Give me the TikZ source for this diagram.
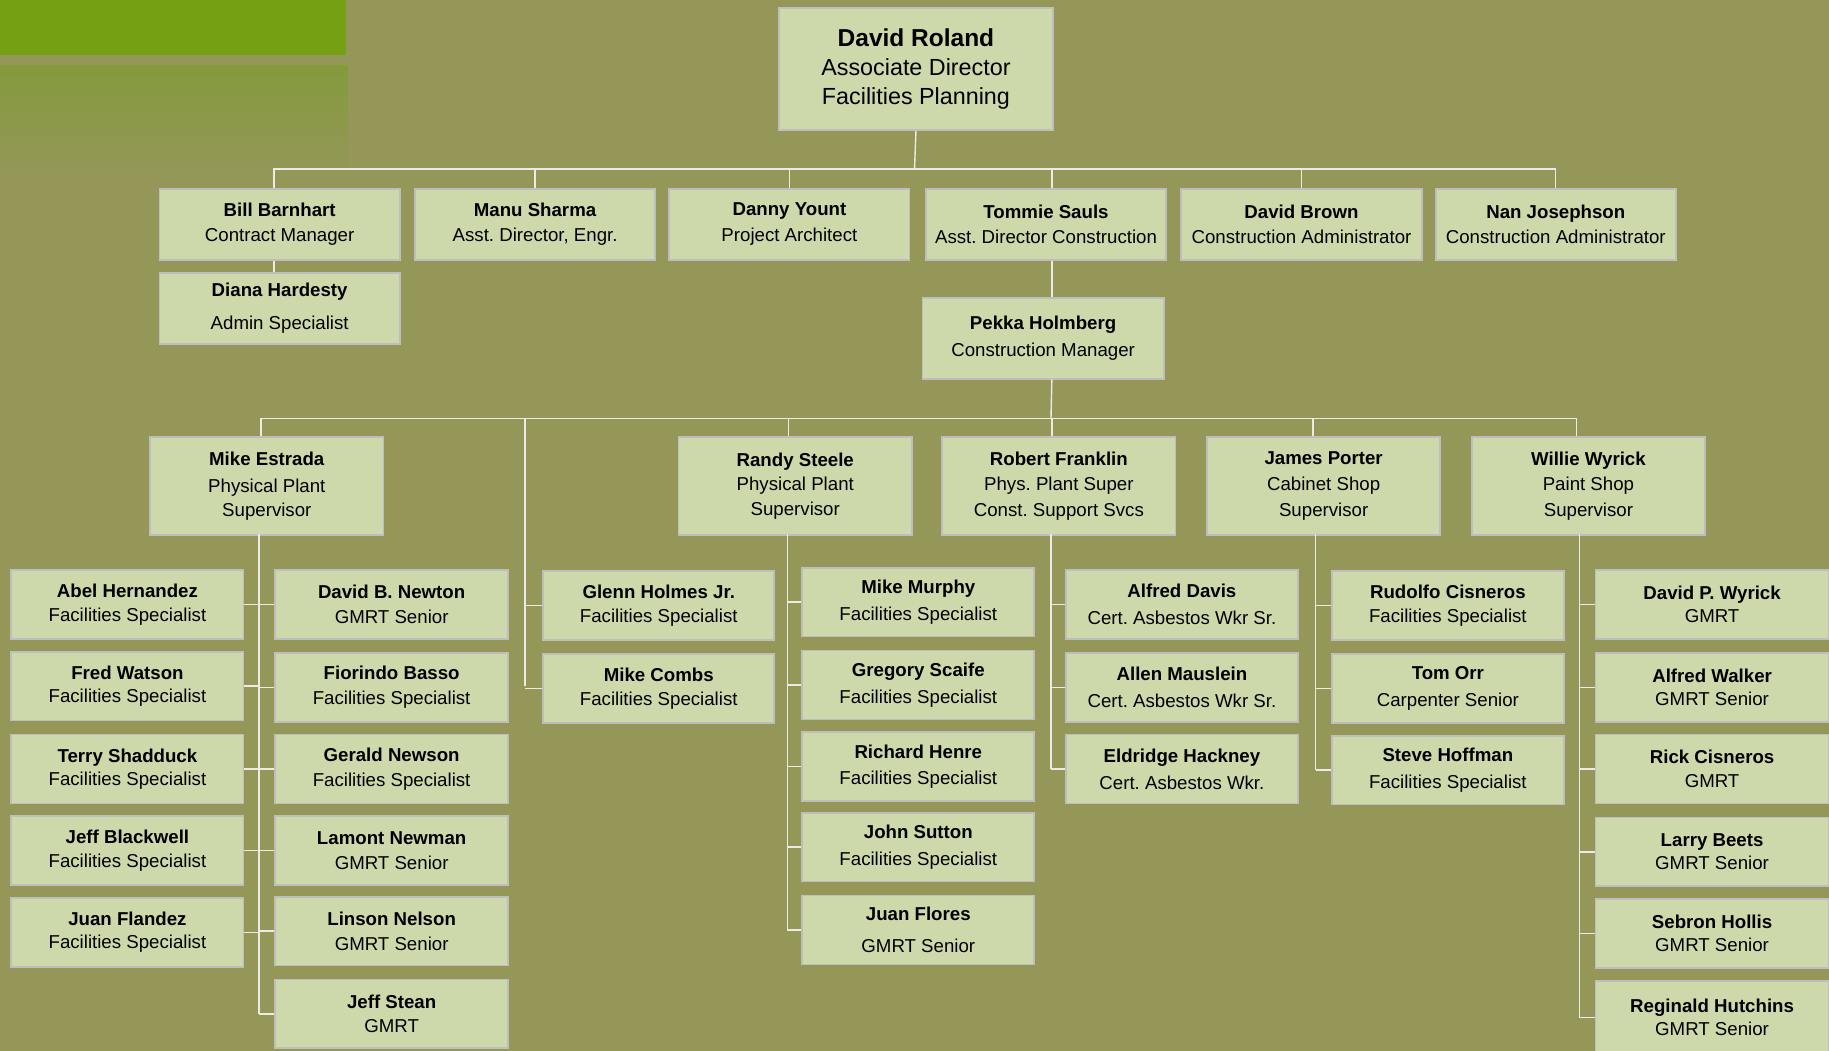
\documentclass[tikz,border=0pt]{standalone}
\usepackage{fontspec}
\setmainfont{Liberation Sans}
\frenchspacing
\definecolor{bg}{RGB}{148,151,88}
\definecolor{boxfill}{RGB}{205,217,171}
\definecolor{boxline}{RGB}{190,190,190}
\definecolor{conncol}{RGB}{236,236,230}
\definecolor{topgreen}{RGB}{118,160,19}
\definecolor{fadegreen}{RGB}{132,154,60}
\tikzset{
  box/.style={draw=boxline, fill=boxfill, line width=1.5pt, inner sep=0pt, anchor=north west,
    align=center, font=\fontsize{16}{22}\selectfont, text=black},
  conn/.style={draw=conncol, line width=1.2pt},
}
\newcommand\nm[1]{\textbf{#1}}
\begin{document}
\begin{tikzpicture}[x=1pt,y=-1pt]
\fill[bg] (0,0) rectangle (1568,901);
\useasboundingbox (0,0) rectangle (1568,901);
% decorations
\fill[topgreen] (0,0) rectangle (297,47);
\shade[top color=fadegreen, bottom color=bg] (0,56) rectangle (298,150);
% top
\node[box, minimum width=235pt, minimum height=105pt, font=\fontsize{20}{25}\selectfont] (roland) at (667,6)
  {{\fontsize{21}{25}\selectfont\bfseries David Roland}\\Associate Director\\Facilities Planning};
% level 1
\foreach \n/\x/\a/\b in {bill/136/Bill Barnhart/Contract Manager,
  manu/355/Manu Sharma/{Asst. Director, Engr.},
  danny/573/Danny Yount/Project Architect,
  tommie/793/Tommie Sauls/Asst. Director Construction,
  dbrown/1012/David Brown/Construction Administrator,
  nan/1230/Nan Josephson/Construction Administrator}
  \node[box, minimum width=206pt, minimum height=61pt] (\n) at (\x,161) {\nm{\a}\\\b};
\node[box, minimum width=206pt, minimum height=61pt] (diana) at (136,233) {\nm{Diana Hardesty}\\[6pt]Admin Specialist};
\node[box, minimum width=207pt, minimum height=69pt] (pekka) at (790,255) {\nm{Pekka Holmberg}\\[1pt]Construction Manager};
% level 2
\node[box, minimum width=200pt, minimum height=84pt, font=\fontsize{16}{21}\selectfont] (estrada) at (128,374) {\nm{Mike Estrada}\\[2pt]Physical Plant\\Supervisor};
\node[box, minimum width=200pt, minimum height=84pt, font=\fontsize{16}{21}\selectfont] (steele) at (581,374) {\nm{Randy Steele}\\Physical Plant\\Supervisor};
\node[box, minimum width=200pt, minimum height=84pt, font=\fontsize{16}{22}\selectfont] (franklin) at (807,374) {\nm{Robert Franklin}\\Phys. Plant Super\\Const. Support Svcs};
\node[box, minimum width=200pt, minimum height=84pt, font=\fontsize{16}{22}\selectfont] (porter) at (1034,374) {\nm{James Porter}\\Cabinet Shop\\Supervisor};
\node[box, minimum width=200pt, minimum height=84pt, font=\fontsize{16}{22}\selectfont] (wyrick) at (1261,374) {\nm{Willie Wyrick}\\Paint Shop\\Supervisor};
% Estrada left column
\foreach \n/\y/\a/\b in {abel/488/Abel Hernandez/Facilities Specialist,
  fred/558/Fred Watson/Facilities Specialist,
  terry/629/Terry Shadduck/Facilities Specialist,
  jeffb/699/Jeff Blackwell/Facilities Specialist,
  juanf/769/Juan Flandez/Facilities Specialist}
  \node[box, minimum width=199pt, minimum height=59pt, font=\fontsize{16}{20}\selectfont] (\n) at (9,\y) {\nm{\a}\\\b};
% Estrada right column
\foreach \n/\y/\a/\b in {newton/488/David B. Newton/GMRT Senior,
  basso/559/Fiorindo Basso/Facilities Specialist,
  newson/629/Gerald Newson/Facilities Specialist,
  newman/699/Lamont Newman/GMRT Senior,
  nelson/768/Linson Nelson/GMRT Senior,
  stean/839/Jeff Stean/GMRT}
  \node[box, minimum width=200pt, minimum height=59pt, font=\fontsize{16}{21}\selectfont] (\n) at (235,\y) {\nm{\a}\\\b};
% middle pair
\node[box, minimum width=198pt, minimum height=59pt, font=\fontsize{16}{20}\selectfont] (glenn) at (465,489) {\nm{Glenn Holmes Jr.}\\Facilities Specialist};
\node[box, minimum width=198pt, minimum height=59pt, font=\fontsize{16}{21}\selectfont] (combs) at (465,560) {\nm{Mike Combs}\\Facilities Specialist};
% Steele column
\foreach \n/\y/\a/\b in {murphy/486/Mike Murphy/Facilities Specialist,
  scaife/557/Gregory Scaife/Facilities Specialist,
  henre/627/Richard Henre/Facilities Specialist,
  sutton/696/John Sutton/Facilities Specialist}
  \node[box, minimum width=199pt, minimum height=59pt, font=\fontsize{16}{23}\selectfont] (\n) at (687,\y) {\nm{\a}\\\b};
\node[box, minimum width=199pt, minimum height=59pt, font=\fontsize{16}{22}\selectfont] (flores) at (687,767) {\nm{Juan Flores}\\[5pt]GMRT Senior};
% Franklin column
\foreach \n/\y/\a/\b in {adavis/488/Alfred Davis/Cert. Asbestos Wkr Sr.,
  mauslein/559/Allen Mauslein/Cert. Asbestos Wkr Sr.,
  hackney/629/Eldridge Hackney/Cert. Asbestos Wkr.}
  \node[box, minimum width=199pt, minimum height=59pt, font=\fontsize{16}{23}\selectfont] (\n) at (913,\y) {\nm{\a}\\\b};
% Porter column
\node[box, minimum width=199pt, minimum height=59pt, font=\fontsize{16}{20}\selectfont] (rudolfo) at (1141,489) {\nm{Rudolfo Cisneros}\\Facilities Specialist};
\node[box, minimum width=199pt, minimum height=59pt, font=\fontsize{16}{23}\selectfont] (orr) at (1141,560) {\nm{Tom Orr}\\Carpenter Senior};
\node[box, minimum width=199pt, minimum height=59pt, font=\fontsize{16}{23}\selectfont] (hoffman) at (1141,630) {\nm{Steve Hoffman}\\Facilities Specialist};
% Wyrick column
\foreach \n/\y/\a/\b in {dpw/488/David P. Wyrick/GMRT,
  walker/559/Alfred Walker/GMRT Senior,
  rick/629/Rick Cisneros/GMRT,
  beets/700/Larry Beets/GMRT Senior,
  hollis/770/Sebron Hollis/GMRT Senior}
  \node[box, minimum width=200pt, minimum height=59pt, font=\fontsize{16}{20}\selectfont] (\n) at (1367,\y) {\nm{\a}\\\b};
\node[box, minimum width=200pt, minimum height=63pt, font=\fontsize{16}{20}\selectfont] (hutchins) at (1367,840) {\nm{Reginald Hutchins}\\GMRT Senior};
% bus coordinates
\coordinate (busA) at (784,145);
\coordinate (busB) at (901,359);
\coordinate (midT) at (450,588);
\coordinate (estT) at (222,458);
\coordinate (steT) at (675,458);
\coordinate (fraT) at (901,458);
\coordinate (porT) at (1128,458);
\coordinate (wyrT) at (1354,458);
% level 1 connectors
\draw[conn] (roland.south) -- (busA);
\draw[conn] ([xshift=-5pt]bill.north) |- (busA) -| (nan.north);
\foreach \n in {manu,danny,dbrown} \draw[conn] (\n.north) -- (\n.north |- busA);
\draw[conn] ([xshift=5pt]tommie.north) -- ([xshift=5pt]tommie.north |- busA);
\draw[conn] ([xshift=-5pt]bill.south) -- ([xshift=-5pt]bill.south |- diana.north);
\draw[conn] ([xshift=5pt]tommie.south) -- ([xshift=5pt]tommie.south |- pekka.north);
% level 2 connectors
\draw[conn] ([xshift=7.5pt]pekka.south) -- (busB);
\draw[conn] ([xshift=-5pt]estrada.north) |- (busB) -| ([xshift=-10pt]wyrick.north);
\draw[conn] (midT |- busB) -- (midT);
\foreach \n/\d in {steele/-6pt,porter/-9pt,franklin/-6pt} \draw[conn] ([xshift=\d]\n.north) -- ([xshift=\d]\n.north |- busB);
% Estrada subtree
\draw[conn] (estT) -- (estT |- stean.west);
\foreach \n in {abel,fred,terry,jeffb,juanf} \draw[conn] (\n.east) -- (\n.east -| estT);
\foreach \n in {newton,basso,newson,newman,nelson,stean} \draw[conn] (\n.west) -- (\n.west -| estT);
% middle
\foreach \n in {glenn,combs} \draw[conn] (\n.west) -- (\n.west -| midT);
% Steele subtree
\draw[conn] (steT) -- (steT |- flores.west);
\foreach \n in {murphy,scaife,henre,sutton,flores} \draw[conn] (\n.west) -- (\n.west -| steT);
% Franklin subtree
\draw[conn] (fraT) -- (fraT |- hackney.west);
\foreach \n in {adavis,mauslein,hackney} \draw[conn] (\n.west) -- (\n.west -| fraT);
% Porter subtree
\draw[conn] (porT) -- (porT |- hoffman.west);
\foreach \n in {rudolfo,orr,hoffman} \draw[conn] (\n.west) -- (\n.west -| porT);
% Wyrick subtree
\draw[conn] (wyrT) -- (wyrT |- hutchins.west);
\foreach \n in {dpw,walker,rick,beets,hollis,hutchins} \draw[conn] (\n.west) -- (\n.west -| wyrT);
\end{tikzpicture}
\end{document}
